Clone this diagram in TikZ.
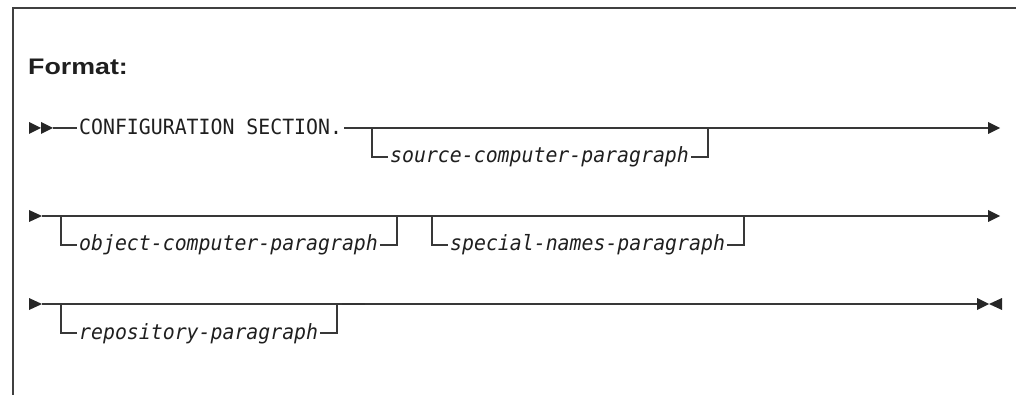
\documentclass[tikz,border=0pt]{standalone}
\usepackage{fontspec}
\setmonofont{DejaVu Sans Mono}
\newfontfamily\headfont{Liberation Sans}
\usetikzlibrary{positioning}
\newcommand\cond[1]{\scalebox{0.945}[1]{#1}}

\begin{document}
\begin{tikzpicture}[x=1pt, y=-1pt,
  rail/.style={draw=black!78, line width=1.2pt},
  tip/.style={fill=black!85},
  kw/.style={inner xsep=2pt, inner ysep=0pt, anchor=base west, text=black!88,
    font=\fontsize{21}{24}\selectfont\ttfamily},
  var/.style={kw, font=\fontsize{21}{24}\selectfont\ttfamily\itshape}]

  \newcommand\YA{128};
  \newcommand\YB{216};
  \newcommand\YC{304};
  \newcommand\DROP{29};

  \useasboundingbox (0,0) rectangle (1016,395);

  % frame
  \draw[draw=black!75, line width=1.3pt] (13,395) -- (13,8) -- (1016,8);

  \node[anchor=base west, inner sep=0pt, text=black!88,
    font=\headfont\bfseries\fontsize{22.5}{26}\selectfont] (fmt) at (28,75)
    {\scalebox{1.19}[1]{Format:}};

  % row 1
  \fill[tip] (29,\YA-6) -- (41,\YA) -- (29,\YA+6) -- cycle;
  \fill[tip] (41,\YA-6) -- (53,\YA) -- (41,\YA+6) -- cycle;
  \coordinate (a1) at (53,\YA);
  \coordinate (e1) at (988,\YA);
  \node[kw] (cfg) at (77,\YA+7) {\cond{CONFIGURATION SECTION.}};
  \draw[rail] (a1) -- (cfg.west |- a1);
  \draw[rail] (cfg.east |- a1) -- (e1);
  \fill[tip] (e1) ++(0,-6) -- ++(12,6) -- ++(-12,6) -- cycle;

  \coordinate (b1l) at (372,\YA);
  \coordinate (b1r) at (708,\YA);
  \coordinate (d1l) at (372,\YA+\DROP);
  \coordinate (d1r) at (708,\YA+\DROP);
  \node[var] (src) at (388,\YA+\DROP+6) {\cond{source-computer-paragraph}};
  \draw[rail] (b1l) -- (d1l) -- (src.west |- d1l);
  \draw[rail] (src.east |- d1r) -- (d1r) -- (b1r);

  % row 2
  \fill[tip] (29,\YB-6) -- (42,\YB) -- (29,\YB+6) -- cycle;
  \coordinate (a2) at (42,\YB);
  \coordinate (e2) at (988,\YB);
  \draw[rail] (a2) -- (e2);
  \fill[tip] (e2) ++(0,-6) -- ++(12,6) -- ++(-12,6) -- cycle;

  \coordinate (b2l) at (61,\YB);
  \coordinate (b2r) at (397,\YB);
  \coordinate (d2l) at (61,\YB+\DROP);
  \coordinate (d2r) at (397,\YB+\DROP);
  \node[var] (obj) at (77,\YB+\DROP+6) {\cond{object-computer-paragraph}};
  \draw[rail] (b2l) -- (d2l) -- (obj.west |- d2l);
  \draw[rail] (obj.east |- d2r) -- (d2r) -- (b2r);

  \coordinate (b3l) at (432,\YB);
  \coordinate (b3r) at (744,\YB);
  \coordinate (d3l) at (432,\YB+\DROP);
  \coordinate (d3r) at (744,\YB+\DROP);
  \node[var] (spc) at (448,\YB+\DROP+6) {\cond{special-names-paragraph}};
  \draw[rail] (b3l) -- (d3l) -- (spc.west |- d3l);
  \draw[rail] (spc.east |- d3r) -- (d3r) -- (b3r);

  % row 3
  \fill[tip] (29,\YC-6) -- (42,\YC) -- (29,\YC+6) -- cycle;
  \coordinate (a3) at (42,\YC);
  \coordinate (e3) at (977,\YC);
  \draw[rail] (a3) -- (e3);
  \draw[draw=black!80, line width=2pt] (342,\YC-0.4) -- (365,\YC-0.4);
  \fill[tip] (e3) ++(0,-6) -- ++(12,6) -- ++(-12,6) -- cycle;
  \fill[tip] (1002,\YC-6) -- (989,\YC) -- (1002,\YC+6) -- cycle;

  \coordinate (b4l) at (61,\YC);
  \coordinate (b4r) at (337,\YC);
  \coordinate (d4l) at (61,\YC+\DROP);
  \coordinate (d4r) at (337,\YC+\DROP);
  \node[var] (rep) at (77,\YC+\DROP+6) {\cond{repository-paragraph}};
  \draw[rail] (b4l) -- (d4l) -- (rep.west |- d4l);
  \draw[rail] (rep.east |- d4r) -- (d4r) -- (b4r);

\end{tikzpicture}
\end{document}
